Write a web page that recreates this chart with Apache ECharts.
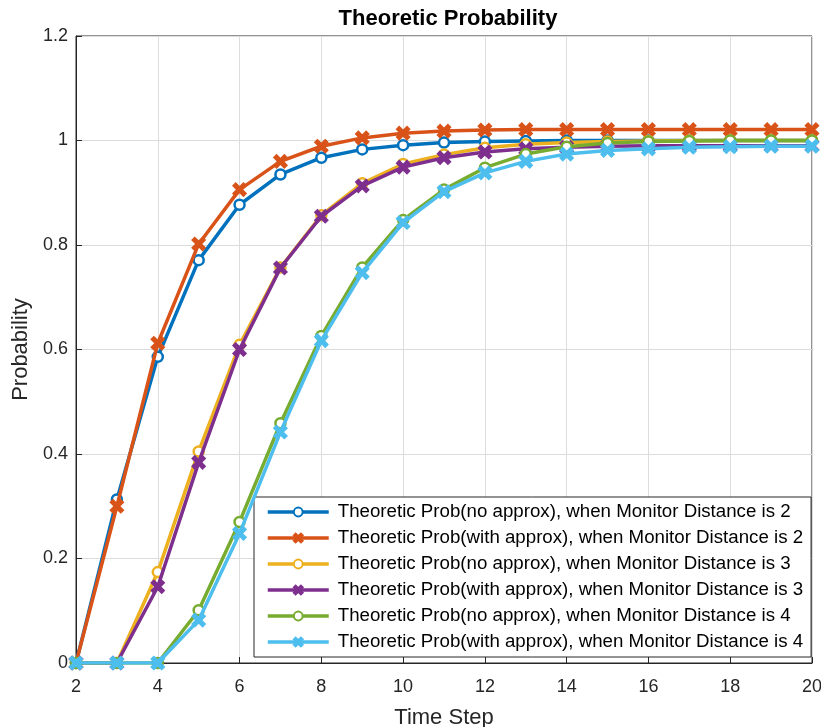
<!DOCTYPE html>
<html>
<head>
<meta charset="utf-8">
<script src="https://cdn.jsdelivr.net/npm/echarts@6/dist/echarts.min.js"></script>
<style>html,body{margin:0;padding:0;background:#fff;}#c{width:821px;height:727px;}</style>
</head>
<body>
<div id="c"></div>
<script>
const timeSteps = [2,3,4,5,6,7,8,9,10,11,12,13,14,15,16,17,18,19,20];
const seriesNames = [
  'Theoretic Prob(no approx), when Monitor Distance is 2',
  'Theoretic Prob(with approx), when Monitor Distance is 2',
  'Theoretic Prob(no approx), when Monitor Distance is 3',
  'Theoretic Prob(with approx), when Monitor Distance is 3',
  'Theoretic Prob(no approx), when Monitor Distance is 4',
  'Theoretic Prob(with approx), when Monitor Distance is 4'
];
const noApprox2   = [0, 0.313, 0.586, 0.771, 0.877, 0.935, 0.967, 0.983, 0.991, 0.996, 0.998, 0.999, 1.0, 1.0, 1.0, 1.0, 1.0, 1.0, 1.0];
const withApprox2 = [0, 0.300, 0.612, 0.802, 0.906, 0.960, 0.989, 1.005, 1.014, 1.018, 1.020, 1.021, 1.021, 1.021, 1.021, 1.021, 1.021, 1.021, 1.021];
const noApprox3   = [0, 0, 0.174, 0.405, 0.609, 0.757, 0.857, 0.918, 0.955, 0.973, 0.986, 0.993, 0.996, 0.998, 0.999, 1.0, 1.0, 1.0, 1.0];
const withApprox3 = [0, 0, 0.146, 0.384, 0.600, 0.756, 0.855, 0.913, 0.949, 0.967, 0.978, 0.984, 0.987, 0.989, 0.990, 0.990, 0.990, 0.990, 0.990];
const noApprox4   = [0, 0, 0, 0.101, 0.270, 0.459, 0.626, 0.757, 0.848, 0.906, 0.948, 0.974, 0.988, 0.995, 0.998, 0.999, 1.0, 1.0, 1.0];
const withApprox4 = [0, 0, 0, 0.082, 0.248, 0.442, 0.617, 0.747, 0.843, 0.902, 0.938, 0.960, 0.974, 0.981, 0.984, 0.987, 0.988, 0.989, 0.989];
const seriesValues = [noApprox2, withApprox2, noApprox3, withApprox3, noApprox4, withApprox4];
const colors = ['#0072BD', '#D95319', '#EDB120', '#7E2F8E', '#77AC30', '#4DBEEE'];
const xTicks = [2, 20, 2];
const yTicks = [0, 1.2, 0.2];

const xMark = 'path://M0,2 L2,0 L5,3 L8,0 L10,2 L7,5 L10,8 L8,10 L5,7 L2,10 L0,8 L3,5 Z';
const font = 'Liberation Sans, Arial, Helvetica, sans-serif';

const series = seriesValues.map((vals, i) => {
  const isCircle = i % 2 === 0;
  return {
    name: seriesNames[i],
    type: 'line',
    data: timeSteps.map((t, k) => [t, vals[k]]),
    symbol: isCircle ? 'circle' : xMark,
    symbolSize: isCircle ? 10 : 13,
    showAllSymbol: true,
    lineStyle: { color: colors[i], width: 3.5 },
    itemStyle: isCircle ? { color: '#fff', borderColor: colors[i], borderWidth: 2.5 } : { color: colors[i], borderColor: colors[i], borderWidth: 1.5 },
    color: colors[i],
    animation: false,
    z: 2 + i
  };
});

const chart = echarts.init(document.getElementById('c'));
chart.setOption({
  backgroundColor: '#fff',
  animation: false,
  title: {
    text: 'Theoretic Probability',
    left: 443, top: 3, textAlign: 'center',
    textStyle: { fontFamily: font, fontSize: 22, fontWeight: 'bold', color: '#000' }
  },
  grid: { left: 76, right: 9, top: 36, bottom: 64, show: true, borderColor: '#262626', borderWidth: 1,
    backgroundColor: 'transparent', containLabel: false, outerBoundsMode: 'none' },
  xAxis: {
    type: 'value', min: xTicks[0], max: xTicks[1], interval: xTicks[2],
    name: 'Time Step', nameLocation: 'middle', nameGap: 44,
    nameTextStyle: { fontFamily: font, fontSize: 22, color: '#262626' },
    axisLine: { show: true, lineStyle: { color: '#262626', width: 1 } },
    axisTick: { show: true, inside: true, length: 6, lineStyle: { color: '#262626' } },
    axisLabel: { fontFamily: font, fontSize: 18, color: '#262626', margin: 15 },
    splitLine: { show: true, lineStyle: { color: '#dcdcdc', width: 1 } }
  },
  yAxis: {
    type: 'value', min: yTicks[0], max: yTicks[1], interval: yTicks[2],
    name: 'Probability', nameLocation: 'middle', nameGap: 39,
    nameTextStyle: { fontFamily: font, fontSize: 22, color: '#262626' },
    axisLine: { show: true, lineStyle: { color: '#262626', width: 1 } },
    axisTick: { show: true, inside: true, length: 6, lineStyle: { color: '#262626' } },
    axisLabel: { fontFamily: font, fontSize: 18, color: '#262626', margin: 8,
      formatter: v => String(Math.round(v * 10) / 10) },
    splitLine: { show: true, lineStyle: { color: '#dcdcdc', width: 1 } }
  },
  legend: {
    orient: 'vertical',
    left: 254, top: 497,
    width: 558,
    padding: [5, 8, 5, 12],
    itemGap: 6,
    itemWidth: 61, itemHeight: 11,
    backgroundColor: '#fff',
    borderColor: '#262626', borderWidth: 1,
    lineStyle: { width: 3.5 },
    textStyle: { fontFamily: font, fontSize: 18.7, lineHeight: 20, color: '#000', padding: [0, 0, 0, 4] },
    data: seriesNames
  },
  series: series
});
</script>
</body>
</html>
